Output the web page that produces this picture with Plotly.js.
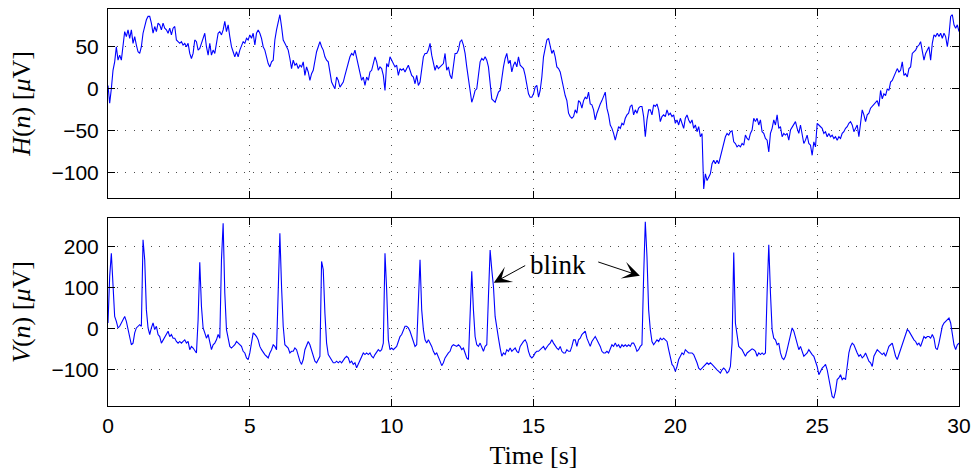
<!DOCTYPE html>
<html>
<head>
<meta charset="utf-8">
<script src="https://cdn.plot.ly/plotly-3.0.1.min.js"></script>
<style>html,body{margin:0;padding:0;background:#fff;}#chart{width:975px;height:470px;}</style>
</head>
<body>
<div id="chart"></div>
<script>
const fs = 17;

// Horizontal EOG channel H(n) in microvolts
const H = [
4,-17,0,22,32,50,34,40,34,54,
68,62,70,60,70,54,62,52,44,42,
50,66,76,82,86,86,78,66,74,68,
78,76,70,78,72,70,66,72,64,72,
74,58,56,54,56,52,54,50,54,42,
36,42,58,56,46,48,54,60,66,50,
40,54,40,46,42,54,66,68,64,70,
80,68,76,62,50,44,38,44,38,46,
50,56,54,60,58,64,60,66,52,66,
70,66,60,50,46,38,30,26,32,34,
58,70,78,88,74,58,54,50,46,36,
24,34,28,30,24,28,26,32,16,26,
20,10,18,22,36,44,50,56,50,46,
38,34,32,22,8,4,0,14,10,2,
6,8,16,24,32,38,42,40,46,36,
26,18,10,14,4,14,10,20,22,30,
38,32,22,26,24,16,-2,30,26,38,
34,30,26,28,16,24,
22,24,20,24,28,22,16,14,6,16,
4,8,26,38,42,42,46,54,40,32,
22,28,24,26,28,30,42,22,26,16,
12,26,42,42,46,56,58,52,42,26,
10,-6,-16,-10,-2,0,18,32,36,34,
38,34,26,2,-12,-14,-16,-10,-4,-2,
16,26,36,42,30,34,20,28,32,26,
38,28,26,24,16,2,-6,-10,-10,-6,
2,4,-10,-2,14,38,50,58,60,52,
42,46,38,26,24,20,10,0,-8,-14,
-29,-33,-35,-33,-25,-29,-14,-16,-23,-14,
-10,-12,-4,-18,-19,-25,-37,-29,-23,-18,
-14,-8,-4,-23,-31,-43,-47,-53,-61,-53,
-45,-47,-41,-43,-35,-31,-29,-21,-19,-31,
-25,-29,-23,-21,-21,-33,-57,-37,-25,-25,
-31,-19,-21,-18,-25,-39,-33,-31,-33,-25,
-31,-29,-33,-31,-41,-37,-43,-35,-41,-47,
-35,-31,-37,-41,
-37,-47,-43,-51,-45,-57,-53,-119,-101,-109,
-105,-101,-89,-85,-89,-85,-89,-81,-75,-65,
-57,-53,-55,-51,-50,-63,-65,-69,-67,-69,
-65,-67,-55,-59,-61,-53,-49,-35,-39,-35,
-43,-37,-51,-53,-59,-61,-75,-53,-47,-37,
-43,-31,-47,-45,-57,-53,-55,-53,-61,-49,
-45,-41,-39,-47,-53,-43,-53,-65,-61,-55,
-65,-67,-79,-63,-69,-41,-43,-45,-47,-53,
-51,-57,-53,-57,-55,-59,-57,-61,-57,-59,
-53,-51,-47,-45,-41,-39,-43,-51,-47,-43,
-57,-37,-25,-31,-39,-31,-29,-23,-21,-18,
-16,-14,-21,-2,-12,-6,-8,0,-2,8,
10,14,18,24,20,22,32,16,18,14,
24,26,42,44,46,50,52,56,46,34,
42,46,50,34,54,64,62,66,62,66,
60,66,62,50,64,86,88,76,72,76,
68
];

// Vertical EOG channel V(n) in microvolts
const V = [
13,126,183,86,29,17,1,5,13,25,
29,17,-3,-24,-40,-36,-11,1,5,9,
5,216,167,45,1,-15,1,13,-3,5,
-15,-20,-36,-28,-20,-15,-7,-20,-15,-24,
-24,-32,-36,-32,-36,-32,-28,-36,-32,-52,
-44,-48,-56,-60,21,161,54,1,-11,-24,
-15,-32,-52,-40,-36,-28,-15,-24,167,256,
86,-3,-28,-44,-48,-44,-40,-32,-36,-40,
-44,-56,-60,-72,-76,-60,-36,-11,-15,-20,
-28,-44,-52,-60,-64,-68,-72,-60,-52,-40,
-44,-52,127,232,102,5,-40,-44,-48,-60,
-56,-56,-48,-52,-68,-80,-88,-76,-52,-44,
-32,-40,-52,-68,-80,-84,-76,-68,163,143,
37,-36,-64,-72,-76,-84,-84,-80,-84,-80,
-84,-76,-72,-68,-72,-84,-80,-88,-84,-96,
-88,-80,-68,-60,-64,-60,-64,-60,-68,-72,
-64,-56,-52,-56,-52,-36,183,94,-28,-52,
-48,-52,-48,-44,-32,-20,
-15,-7,5,5,1,-7,-20,-36,-44,-40,
86,167,45,-3,-28,-36,-28,-36,-44,-56,
-64,-60,-68,-80,-91,-84,-72,-64,-60,-56,
-44,-40,-42,-44,-40,-44,-52,-48,-60,-72,
-76,45,139,45,-20,-40,-44,-36,-48,-56,
-44,-40,78,191,143,102,29,-3,-24,-48,
-68,-60,-64,-52,-56,-48,-56,-52,-48,-56,
-60,-44,-36,-32,-28,-36,-56,-68,-72,-68,
-60,-56,-56,-52,-48,-44,-52,-44,-40,-36,
-28,-36,-44,-48,-52,-44,-56,-60,-60,-52,
-56,-56,-44,-28,-28,-44,-28,-24,-15,-11,
-7,-24,-36,-44,-32,-24,-20,-28,-36,-44,
-56,-60,-60,-56,-60,-52,-40,-44,-36,-44,
-40,-48,-40,-44,-40,-44,-40,-44,-36,-36,
-44,-56,-52,-44,-40,127,260,175,45,-3,
-32,-40,-32,-28,-32,-24,-28,-24,-28,-32,
-52,-68,-88,-93,-105,-93,-76,-68,-60,-64,
-52,-56,-60,-60,
-60,-64,-72,-84,-97,-101,-97,-93,-88,-84,
-88,-84,-88,-93,-97,-101,-105,-109,-101,-97,
-101,-109,-105,-93,-36,185,13,-20,-44,-48,
-52,-60,-68,-60,-56,-52,-50,-52,-56,-68,
-60,-64,-60,-64,-60,86,204,86,-3,-24,
-28,-40,-36,-60,-72,-76,-68,-52,-32,-11,
1,-7,-24,-36,-52,-44,-56,-68,-64,-60,
-52,-60,-64,-68,-80,-93,-113,-105,-97,-93,
-88,-101,-125,-149,-166,-170,-153,-125,-121,-113,
-125,-121,-125,-93,-60,-44,-36,-40,-52,-60,
-68,-64,-72,-68,-60,-72,-80,-84,-93,-68,
-60,-52,-56,-60,-64,-60,-68,-56,-44,-40,
-36,-52,-68,-76,-64,-52,-44,-28,-15,-3,
-7,-15,-20,-28,-32,-40,-36,-44,-32,-20,
-24,-20,-20,-24,-15,-24,-48,-52,-36,-11,
5,13,17,21,25,13,-11,-40,-52,-40,
-36
];

// Axis tick labels
const timeTicks = [0, 5, 10, 15, 20, 25, 30];
const hTicks = [-100, -50, 0, 50];
const vTicks = [-100, 0, 100, 200];

// Annotation: two blinks marked with arrows
const blinkLabel = "blink";
const blinkTargets = [{t: 13.6, v: 111, tailT: 14.76, tailV: 155},
                      {t: 18.75, v: 128, tailT: 17.23, tailV: 163}];
const blinkTextPos = {t: 15.86, v: 155};

const t = H.map((_, i) => i / fs);

const serif = "Liberation Serif, Times New Roman, serif";
const sans = "Liberation Sans, Arial, Helvetica, sans-serif";

const gridStyle = {
  showgrid: true, gridcolor: "rgba(0,0,0,0.7)", gridwidth: 1, griddash: "1px,7.5px",
  zeroline: false, showline: true, linecolor: "black", linewidth: 1,
  mirror: "ticks", ticks: "inside", ticklen: 7, tickcolor: "black", tickwidth: 1,
  tickfont: {family: sans, size: 21, color: "black"}
};

const traces = [
  {x: t, y: H, type: "scatter", mode: "lines", line: {color: "#0000ff", width: 1.1}, xaxis: "x", yaxis: "y", hoverinfo: "skip"},
  {x: t, y: V, type: "scatter", mode: "lines", line: {color: "#0000ff", width: 1.1}, xaxis: "x2", yaxis: "y2", hoverinfo: "skip"}
];

const annotations = blinkTargets.map(b => ({
  xref: "x2", yref: "y2", axref: "x2", ayref: "y2",
  x: b.t, y: b.v, ax: b.tailT, ay: b.tailV,
  text: "", showarrow: true, arrowhead: 3, arrowsize: 2.9, arrowwidth: 1, arrowcolor: "black", standoff: 0, startstandoff: 0
}));
annotations.push({
  xref: "x2", yref: "y2", x: blinkTextPos.t, y: blinkTextPos.v, text: blinkLabel, showarrow: false,
  font: {family: serif, size: 27, color: "black"}
});

const layout = {
  width: 975, height: 470,
  margin: {l: 108, r: 16, t: 9, b: 64},
  paper_bgcolor: "white", plot_bgcolor: "white",
  showlegend: false,
  xaxis: Object.assign({}, gridStyle, {domain: [0, 1], anchor: "y", range: [0, 30], tickvals: timeTicks, showticklabels: false}),
  yaxis: Object.assign({}, gridStyle, {domain: [0.524, 1], anchor: "x", range: [-129.7, 94.8], tickvals: hTicks, ticklabelstandoff: 4,
    title: {text: "<i>H</i>(<i>n</i>) [<i>μ</i>V]", font: {family: serif, size: 26, color: "black"}, standoff: 13}}),
  xaxis2: Object.assign({}, gridStyle, {domain: [0, 1], anchor: "y2", matches: "x", range: [0, 30], tickvals: timeTicks, ticklabelstandoff: 1,
    title: {text: "Time [s]", font: {family: serif, size: 26, color: "black"}, standoff: 14}}),
  yaxis2: Object.assign({}, gridStyle, {domain: [0, 0.4736], anchor: "x2", range: [-189.3, 269], tickvals: vTicks, ticklabelstandoff: 4,
    title: {text: "<i>V</i>(<i>n</i>) [<i>μ</i>V]", font: {family: serif, size: 26, color: "black"}, standoff: 13}}),
  annotations: annotations
};

Plotly.newPlot("chart", traces, layout, {staticPlot: true, displayModeBar: false});
</script>
</body>
</html>
